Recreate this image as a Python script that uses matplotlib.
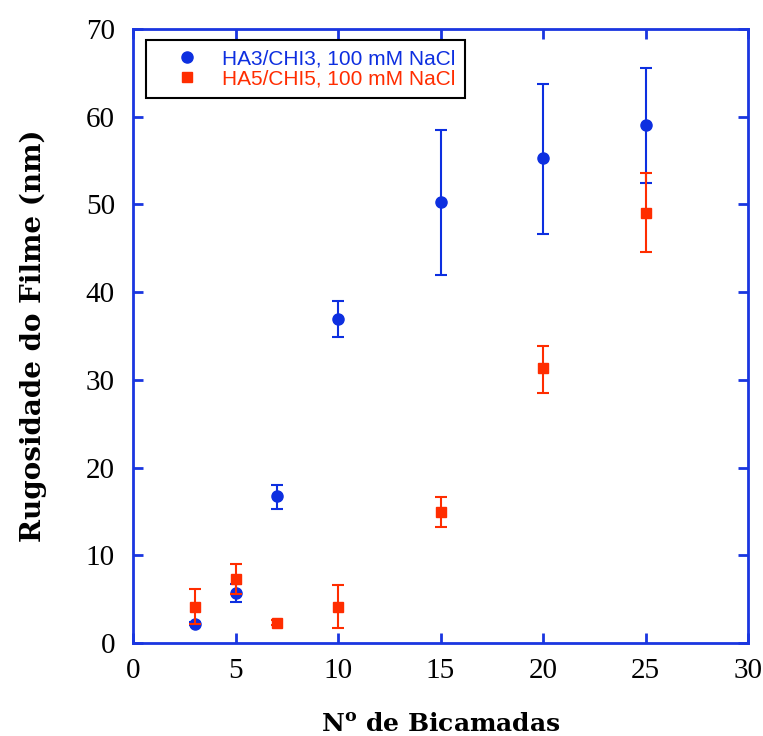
import matplotlib
matplotlib.use("Agg")
import matplotlib.pyplot as plt

# Data
x_ha3 = [3, 5, 7, 10, 15, 20, 25]
y_ha3 = [2.2, 5.7, 16.8, 36.9, 50.3, 55.3, 59.0]
err_ha3_low = [0.2, 1.05, 1.5, 2.0, 8.3, 8.7, 6.6]
err_ha3_high = [0.2, 1.0, 1.2, 2.1, 8.2, 8.4, 6.5]

x_ha5 = [3, 5, 7, 10, 15, 20, 25]
y_ha5 = [4.1, 7.3, 2.3, 4.1, 14.9, 31.3, 49.0]
err_ha5_low = [1.9, 1.7, 0.3, 2.4, 1.7, 2.8, 4.4]
err_ha5_high = [2.0, 1.75, 0.3, 2.5, 1.7, 2.6, 4.6]

label_ha3 = "HA3/CHI3, 100 mM NaCl"
label_ha5 = "HA5/CHI5, 100 mM NaCl"
xlabel = r"N$^{\mathbf{o}}$ de Bicamadas"
ylabel = "Rugosidade do Filme (nm)"
xticks = [0, 5, 10, 15, 20, 25, 30]
yticks = [0, 10, 20, 30, 40, 50, 60, 70]

BLUE = "#0d2fe0"
RED = "#ff2d00"
SPINE = "#1a36e0"

plt.rcParams["mathtext.fontset"] = "custom"
plt.rcParams["mathtext.rm"] = "DejaVu Serif"
plt.rcParams["mathtext.bf"] = "DejaVu Serif:bold"
plt.rcParams["mathtext.it"] = "DejaVu Serif:italic"

fig = plt.figure(figsize=(7.63, 7.36), dpi=100)
ax = fig.add_axes([133/763, (736-643)/736, 615/763, 614/736])

ax.errorbar(x_ha3, y_ha3, yerr=[err_ha3_low, err_ha3_high], fmt="o", color=BLUE,
            ecolor=BLUE, markersize=8, elinewidth=1.5, capsize=4.5, capthick=1.5,
            label=label_ha3, zorder=3)
ax.errorbar(x_ha5, y_ha5, yerr=[err_ha5_low, err_ha5_high], fmt="s", color=RED,
            ecolor=RED, markersize=7.5, elinewidth=1.5, capsize=4.5, capthick=1.5,
            label=label_ha5, zorder=4)

ax.set_xlim(0, 30)
ax.set_ylim(0, 70)
ax.set_xticks(xticks)
ax.set_yticks(yticks)

for s in ax.spines.values():
    s.set_color(SPINE)
    s.set_linewidth(2)

ax.tick_params(direction="in", length=7, width=2, color=SPINE, top=True, right=True,
               labelsize=21)
ax.tick_params(axis="x", pad=11)
ax.tick_params(axis="y", pad=13)
for lbl in ax.get_xticklabels() + ax.get_yticklabels():
    lbl.set_fontfamily("Liberation Serif")

ax.set_xlabel(xlabel, fontsize=18, fontweight="bold", family="DejaVu Serif", labelpad=20)
ax.set_ylabel(ylabel, fontsize=20, fontweight="bold", family="DejaVu Serif", labelpad=28)

handles, labels = ax.get_legend_handles_labels()
handles = [h[0] for h in handles]
leg = ax.legend(handles, labels, loc="upper left", bbox_to_anchor=(0.021, 0.982),
                borderaxespad=0, fancybox=False, framealpha=1, edgecolor="black",
                prop={"family": "Liberation Sans", "size": 15}, handlelength=3.0,
                handletextpad=0.2, labelspacing=0.05, borderpad=0.45, numpoints=1)
leg.get_frame().set_linewidth(1.5)
leg.texts[0].set_color(BLUE)
leg.texts[1].set_color(RED)

fig.savefig("out.png", dpi=100)
